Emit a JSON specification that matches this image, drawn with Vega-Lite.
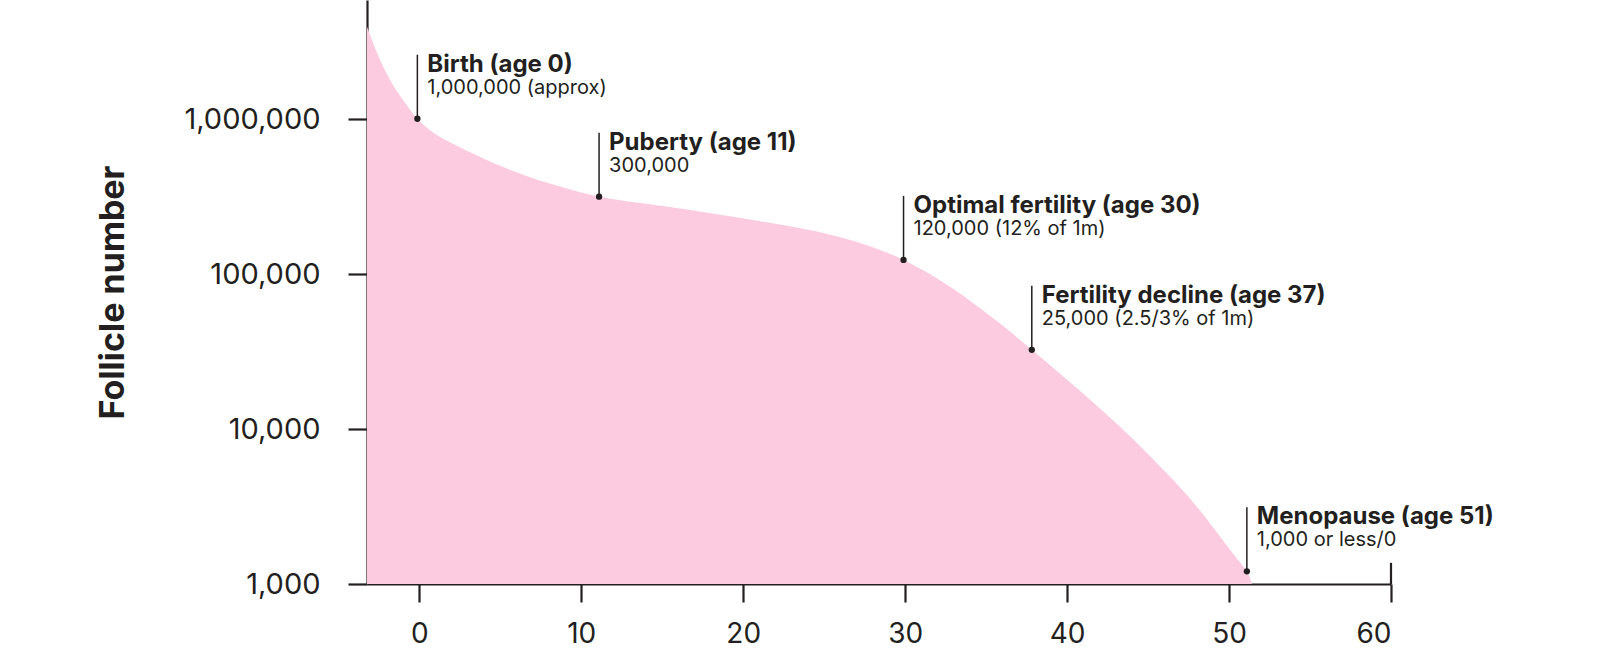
{
  "$schema": "https://vega.github.io/schema/vega-lite/v6.json",
  "autosize": {"type": "none"},
  "padding": {"left": 367, "top": 0, "right": 209, "bottom": 66},
  "width": 1024,
  "height": 584,
  "background": "white",
  "config": {
    "view": {"stroke": null},
    "font": "Inter",
    "axis": {
      "domainColor": "#231f20", "domainWidth": 2.2,
      "tickColor": "#231f20", "tickWidth": 2.2,
      "labelColor": "#231f20", "labelFont": "Inter",
      "titleColor": "#231f20", "titleFont": "Inter", "grid": false
    }
  },
  "datasets": {
    "curve": [
      {"age": -3.23, "n": 3960000},
      {"age": -2.51, "n": 2540000},
      {"age": -1.69, "n": 1710000},
      {"age": -0.97, "n": 1320000},
      {"age": -0.12, "n": 1010000},
      {"age": 0.99, "n": 805000},
      {"age": 2.53, "n": 659000},
      {"age": 5.62, "n": 472000},
      {"age": 8.7, "n": 368000},
      {"age": 11.1, "n": 317000},
      {"age": 13.64, "n": 289000},
      {"age": 16.11, "n": 266000},
      {"age": 20.23, "n": 227500},
      {"age": 24.32, "n": 191000},
      {"age": 27.4, "n": 157000},
      {"age": 29.9, "n": 123800},
      {"age": 32.78, "n": 83000},
      {"age": 35.86, "n": 48000},
      {"age": 37.82, "n": 32500},
      {"age": 39.78, "n": 21800},
      {"age": 41.84, "n": 14160},
      {"age": 43.89, "n": 8980},
      {"age": 45.94, "n": 5470},
      {"age": 48.0, "n": 3170},
      {"age": 50.06, "n": 1667},
      {"age": 51.1, "n": 1208},
      {"age": 51.4, "n": 1000}
    ],
    "notes": [
      {"age": -0.12, "n": 1010000, "title": "Birth (age 0)", "sub": "1,000,000 (approx)"},
      {"age": 11.1, "n": 317000, "title": "Puberty (age 11)", "sub": "300,000"},
      {"age": 29.9, "n": 123800, "title": "Optimal fertility (age 30)", "sub": "120,000 (12% of 1m)"},
      {"age": 37.82, "n": 32500, "title": "Fertility decline (age 37)", "sub": "25,000 (2.5/3% of 1m)"},
      {"age": 51.1, "n": 1208, "title": "Menopause (age 51)", "sub": "1,000 or less/0"}
    ],
    "cap": [{"age": 60, "lo": 1000, "hi": 1370}]
  },
  "layer": [
    {
      "data": {"name": "curve"},
      "mark": {"type": "area", "interpolate": "natural", "color": "#fccbe0", "clip": true},
      "encoding": {
        "x": {"field": "age", "type": "quantitative",
          "scale": {"domain": [-3.23, 60], "nice": false, "zero": false},
          "axis": {"values": [0, 10, 20, 30, 40, 50, 60], "tickSize": 18, "labelPadding": 18, "labelFontSize": 28, "title": null}},
        "y": {"field": "n", "type": "quantitative",
          "scale": {"type": "log", "domain": [1000, 5900000], "nice": false},
          "axis": {"values": [1000, 10000, 100000, 1000000], "format": ",", "tickSize": 19, "labelPadding": 28, "labelFontSize": 29,
            "title": "Follicle number", "titleFontSize": 34, "titleFontWeight": "bold", "titlePadding": 53}},
        "y2": {"datum": 1000}
      }
    },
    {
      "data": {"name": "cap"},
      "mark": {"type": "rule", "color": "#231f20", "strokeWidth": 2.2},
      "encoding": {
        "x": {"field": "age", "type": "quantitative"},
        "y": {"field": "lo", "type": "quantitative"},
        "y2": {"field": "hi"}
      }
    },
    {
      "data": {"name": "notes"},
      "mark": {"type": "rule", "color": "#231f20", "strokeWidth": 1.5, "y2Offset": -64},
      "encoding": {
        "x": {"field": "age", "type": "quantitative"},
        "y": {"field": "n", "type": "quantitative"},
        "y2": {"field": "n"}
      }
    },
    {
      "data": {"name": "notes"},
      "mark": {"type": "point", "filled": true, "opacity": 1, "size": 40, "color": "#231f20"},
      "encoding": {
        "x": {"field": "age", "type": "quantitative"},
        "y": {"field": "n", "type": "quantitative"}
      }
    },
    {
      "data": {"name": "notes"},
      "mark": {"type": "text", "align": "left", "baseline": "alphabetic", "dx": 10, "dy": -47, "fontSize": 24, "fontWeight": "bold", "color": "#231f20", "font": "Inter"},
      "encoding": {
        "x": {"field": "age", "type": "quantitative"},
        "y": {"field": "n", "type": "quantitative"},
        "text": {"field": "title"}
      }
    },
    {
      "data": {"name": "notes"},
      "mark": {"type": "text", "align": "left", "baseline": "alphabetic", "dx": 10, "dy": -25, "fontSize": 20, "color": "#231f20", "font": "Inter"},
      "encoding": {
        "x": {"field": "age", "type": "quantitative"},
        "y": {"field": "n", "type": "quantitative"},
        "text": {"field": "sub"}
      }
    }
  ]
}
